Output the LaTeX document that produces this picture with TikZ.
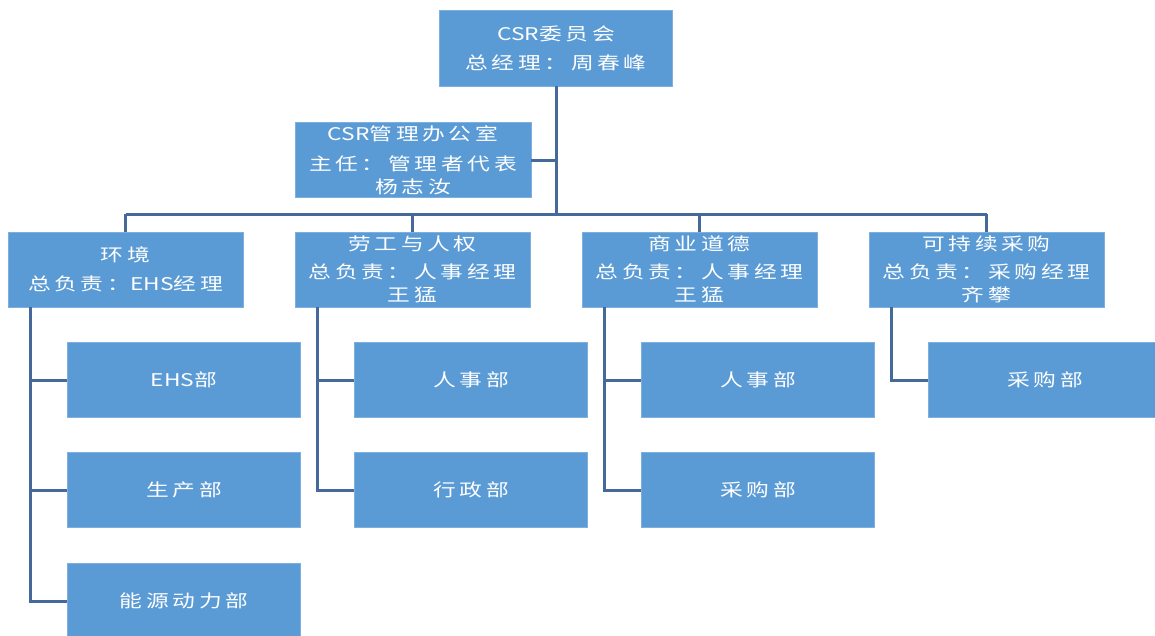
\documentclass[tikz,border=0pt]{standalone}
\usepackage{fontspec}
\newfontfamily\cjk[LetterSpace=21,FakeStretch=1.3]{Noto Sans CJK SC}
\newfontfamily\latn[FakeStretch=1.3]{Noto Sans CJK SC}
\newcommand{\lt}[1]{{\latn #1}}
\definecolor{boxfill}{HTML}{5B9BD5}
\definecolor{boxedge}{HTML}{7DB0DF}
\definecolor{linec}{HTML}{45699A}
\tikzset{
  orgbox/.style={rectangle, fill=boxfill, draw=boxedge, line width=0.6pt,
    minimum width=#1, minimum height=75pt, inner sep=0pt, align=center,
    text=white, font=\cjk\fontsize{17.5}{23}\selectfont},
  orgbox/.default=235pt,
  link/.style={draw=linec, line width=3pt}
}
\begin{document}
\begin{tikzpicture}[x=1pt,y=-1pt]
\useasboundingbox (0,0) rectangle (1155,635);
\clip (0,0) rectangle (1155,635);
% nodes
\node[orgbox=233pt, minimum height=76pt] (top) at (556,48) {\lt{CSR}委员会\\[6pt]总经理：周春峰};
\node[orgbox=236pt] (office) at (413,160) {\lt{CSR}管理办公室\\[7pt]主任：管理者代表\\杨志汝};
\node[orgbox] (env) at (125.5,269.5) {环境\\[6pt]总负责：\lt{EHS}经理};
\node[orgbox] (labor) at (412.5,269.5) {劳工与人权\\[5pt]总负责：人事经理\\王猛};
\node[orgbox] (ethic) at (699.5,269.5) {商业道德\\[5pt]总负责：人事经理\\王猛};
\node[orgbox] (purch) at (986.5,269.5) {可持续采购\\[5pt]总负责：采购经理\\齐攀};
\node[orgbox=233pt] (ehs) at (184,380) {\lt{EHS}部};
\node[orgbox=233pt] (prod) at (184,490) {生产部};
\node[orgbox=233pt] (energy) at (184,601) {能源动力部};
\node[orgbox=233pt] (hr1) at (471,380) {人事部};
\node[orgbox=233pt] (admin) at (471,490) {行政部};
\node[orgbox=233pt] (hr2) at (758,380) {人事部};
\node[orgbox=233pt] (buy1) at (758,490) {采购部};
\node[orgbox=233pt] (buy2) at (1045,380) {采购部};
% connectors
\coordinate (bus) at (556,214);
\draw[link] (top.south) -- (bus);
\draw[link] (office.east) -- (office.east -| top.south);
\draw[link] (env.north |- bus) -- (purch.north |- bus);
\draw[link] (env.north |- bus) -- (env.north);
\draw[link] (labor.north |- bus) -- (labor.north);
\draw[link] (ethic.north |- bus) -- (ethic.north);
\draw[link] (purch.north |- bus) -- (purch.north);
\foreach \p/\c in {env/ehs, env/prod, env/energy, labor/hr1, labor/admin, ethic/hr2, ethic/buy1, purch/buy2}{
  \draw[link] ([xshift=23pt]\p.south west) |- (\c.west);
}
\end{tikzpicture}
\end{document}
